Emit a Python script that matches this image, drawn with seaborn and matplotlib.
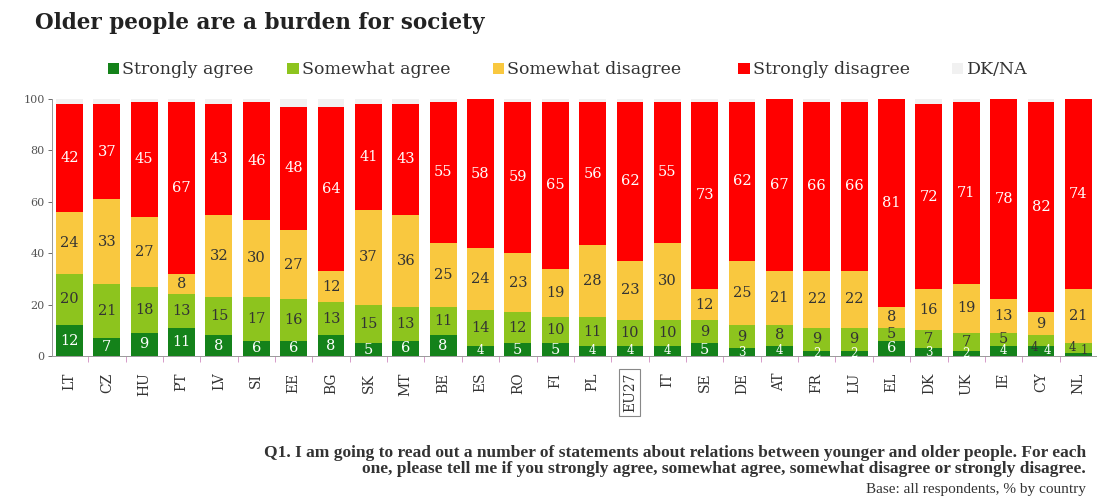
import numpy as np
import pandas as pd
import matplotlib
matplotlib.use("Agg")
import matplotlib.pyplot as plt
from matplotlib.patches import Patch
import seaborn as sns

countries = ["LT", "CZ", "HU", "PT", "LV", "SI", "EE", "BG", "SK", "MT", "BE", "ES", "RO", "FI",
             "PL", "EU27", "IT", "SE", "DE", "AT", "FR", "LU", "EL", "DK", "UK", "IE", "CY", "NL"]
strongly_agree = [12, 7, 9, 11, 8, 6, 6, 8, 5, 6, 8, 4, 5, 5, 4, 4, 4, 5, 3, 4, 2, 2, 6, 3, 2, 4, 4, 1]
somewhat_agree = [20, 21, 18, 13, 15, 17, 16, 13, 15, 13, 11, 14, 12, 10, 11, 10, 10, 9, 9, 8, 9, 9, 5, 7, 7, 5, 4, 4]
somewhat_disagree = [24, 33, 27, 8, 32, 30, 27, 12, 37, 36, 25, 24, 23, 19, 28, 23, 30, 12, 25, 21, 22, 22, 8, 16, 19, 13, 9, 21]
strongly_disagree = [42, 37, 45, 67, 43, 46, 48, 64, 41, 43, 55, 58, 59, 65, 56, 62, 55, 73, 62, 67, 66, 66, 81, 72, 71, 78, 82, 74]
dk_na = [100 - a - b - c - d for a, b, c, d in
         zip(strongly_agree, somewhat_agree, somewhat_disagree, strongly_disagree)]

series_names = ["Strongly agree", "Somewhat agree", "Somewhat disagree", "Strongly disagree", "DK/NA"]
series_values = [strongly_agree, somewhat_agree, somewhat_disagree, strongly_disagree, dk_na]
colors = ["#14821a", "#8dc41e", "#f9c83f", "#ff0000", "#f1f1f1"]
label_colors = ["white", "#333333", "#333333", "white", None]

sns.set_theme(style="white")
plt.rcParams["font.family"] = ["DejaVu Serif"]

fig = plt.figure(figsize=(10.97, 5.0), dpi=100)
ax = fig.add_axes([0.047, 0.288, 0.953, 0.514])

vals = np.array(series_values, dtype=float)
cum = np.cumsum(vals, axis=0)

# stacked bars: draw cumulative totals from the top layer down
for k in range(len(series_names) - 1, -1, -1):
    df = pd.DataFrame({"country": countries, "value": cum[k]})
    sns.barplot(data=df, x="country", y="value", color=colors[k], saturation=1,
                width=0.72, ax=ax, linewidth=0, order=countries)

# value labels at segment centres; the two agree labels sit side by side
# when both segments are too thin to hold them one above the other
for k in range(4):
    for i, c in enumerate(countries):
        v = vals[k, i]
        if v <= 0:
            continue
        yc = cum[k, i] - v / 2
        xc = i
        tight = vals[0, i] + vals[1, i] < 9
        if tight and k == 1:
            xc, yc = i - 0.17, 3.5
        elif tight and k == 0:
            xc, yc = i + 0.17, 2.0
        fs = 10.5 if v >= 5 else 8.5
        col = label_colors[k]
        if tight and k == 0 and v <= 1:
            col = "#333333"
        ax.text(xc, yc, f"{int(v)}", ha="center", va="center", fontsize=fs,
                color=col, family="DejaVu Serif")

ax.set_ylim(0, 100)
ax.set_xlim(-0.48, 27.42)
ax.set_xlabel("")
ax.set_ylabel("")
ax.set_yticks([0, 20, 40, 60, 80, 100])
ax.tick_params(axis="y", labelsize=8, colors="#555555", length=3, width=0.6, left=True, pad=2)
ax.tick_params(axis="x", which="major", length=0, labelsize=10, labelcolor="#333333", pad=12)
ax.set_xticks(range(len(countries)))
ax.set_xticklabels(countries, rotation=90)
ax.set_xticks(np.arange(len(countries)) + 0.5, minor=True)
ax.tick_params(axis="x", which="minor", length=4, width=0.6, color="#d08cc0", bottom=True)
for lbl in ax.get_xticklabels():
    if lbl.get_text() == "EU27":
        lbl.set_bbox(dict(boxstyle="square,pad=0.25", fc="none", ec="#888888", lw=0.8))

for s in ["top", "right"]:
    ax.spines[s].set_visible(False)
ax.spines["left"].set_color("#999999")
ax.spines["left"].set_linewidth(0.7)
ax.spines["bottom"].set_color("#999999")
ax.spines["bottom"].set_linewidth(0.7)

fig.text(0.032, 0.955, "Older people are a burden for society", fontsize=15.5,
         fontweight="bold", color="#222222", ha="left", va="center")

# one legend entry per series, spread across the top of the chart
legend_x = [0.098, 0.262, 0.449, 0.673, 0.868]
for name, c, lx in zip(series_names, colors, legend_x):
    fig.legend([Patch(facecolor=c, edgecolor="none")], [name], loc="center left",
               bbox_to_anchor=(lx, 0.86), frameon=False, fontsize=12.5,
               handlelength=0.65, handleheight=0.65, handletextpad=0.2,
               borderpad=0, borderaxespad=0, labelcolor="#333333")

fig.text(0.99, 0.078,
         "Q1. I am going to read out a number of statements about relations between younger and older people. For each\n"
         "one, please tell me if you strongly agree, somewhat agree, somewhat disagree or strongly disagree.",
         ha="right", va="center", fontsize=12.5, fontweight="bold", color="#333333",
         family="Liberation Serif", linespacing=1.05)
fig.text(0.99, 0.02, "Base: all respondents, % by country", ha="right", va="center",
         fontsize=11, color="#333333", family="Liberation Serif")

fig.savefig("out.png", dpi=100)
